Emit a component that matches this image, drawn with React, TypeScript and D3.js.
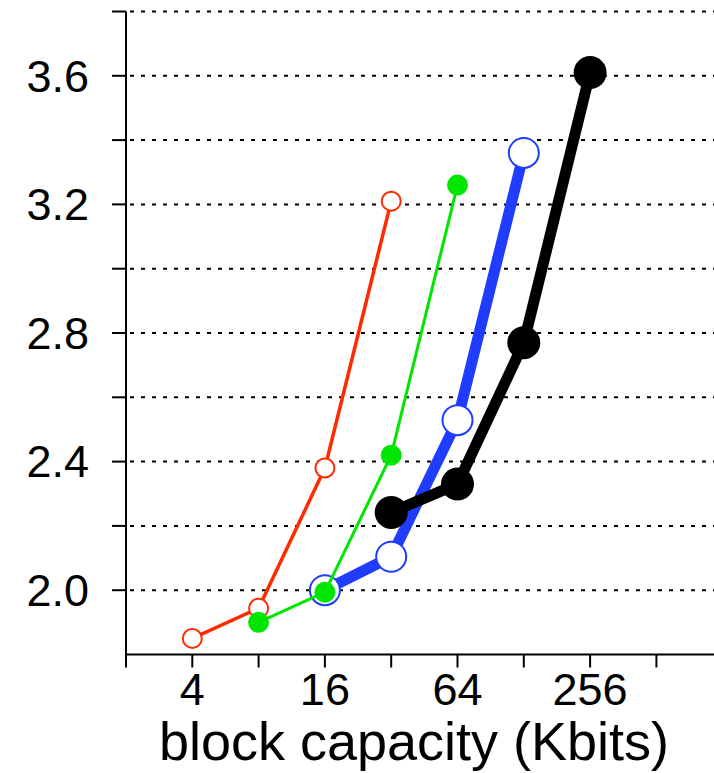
import React from "react";
import * as d3 from "d3";

const W = 714;
const H = 773;

// x values (Kbits) and y values per series
const redX = [4, 8, 16, 32];
const redY = [1.85, 1.944, 2.38, 3.21];
const greenX = [8, 16, 32, 64];
const greenY = [1.90, 1.994, 2.42, 3.26];
const blueX = [16, 32, 64, 128];
const blueY = [2.0, 2.104, 2.529, 3.36];
const blackX = [32, 64, 128, 256];
const blackY = [2.242, 2.33, 2.77, 3.61];

const xTicks = [2, 4, 8, 16, 32, 64, 128, 256, 512, 1024];
const xTickLabels = ["4", "16", "64", "256"];
const yTicks = [2.0, 2.2, 2.4, 2.6, 2.8, 3.0, 3.2, 3.4, 3.6, 3.8];
const yTickLabels = ["2.0", "2.4", "2.8", "3.2", "3.6"];
const xTitle = "block capacity (Kbits)";

const x = d3.scaleLog().base(2).domain([2, 1024]).range([126, 126 + 9 * 66.3]);
const y = d3.scaleLinear().domain([1.8, 3.8]).range([654.5, 11.5]);

const FONT = "'Liberation Sans', Arial, Helvetica, sans-serif";

type Series = {
  xs: number[];
  ys: number[];
  color: string;
  lw: number;
  r: number;
  filled: boolean;
};

const series: Series[] = [
  { xs: blueX, ys: blueY, color: "#1f3cff", lw: 11, r: 15, filled: false },
  { xs: blackX, ys: blackY, color: "#000000", lw: 11, r: 16.5, filled: true },
  { xs: redX, ys: redY, color: "#ff2a00", lw: 3.5, r: 9.5, filled: false },
  { xs: greenX, ys: greenY, color: "#00e600", lw: 3, r: 10.5, filled: true },
];

export default function App() {
  const line = d3
    .line<[number, number]>()
    .x((d) => x(d[0]))
    .y((d) => y(d[1]));

  return (
    <svg
      width={W}
      height={H}
      style={{ position: "absolute", left: 0, top: 0, background: "#fff" }}
    >
      <rect x={0} y={0} width={W} height={H} fill="#fff" />
      {/* gridlines */}
      {yTicks.map((t) => (
        <line
          key={"g" + t}
          x1={126}
          x2={W}
          y1={y(t)}
          y2={y(t)}
          stroke="#000"
          strokeWidth={2}
          strokeDasharray="4,7"
          strokeDashoffset={-4}
        />
      ))}
      {/* y axis */}
      <line x1={126} x2={126} y1={y(3.8)} y2={y(1.8)} stroke="#000" strokeWidth={2} />
      {yTicks.map((t) => (
        <line key={"yt" + t} x1={112} x2={126} y1={y(t)} y2={y(t)} stroke="#000" strokeWidth={2} />
      ))}
      {yTickLabels.map((l) => (
        <text
          key={"yl" + l}
          x={89}
          y={y(+l)}
          dy="0.35em"
          textAnchor="end"
          fontFamily={FONT}
          fontSize={45}
          fill="#000"
        >
          {l}
        </text>
      ))}
      {/* x axis */}
      <line x1={125} x2={W} y1={y(1.8)} y2={y(1.8)} stroke="#000" strokeWidth={2} />
      {xTicks.map((t) => (
        <line
          key={"xt" + t}
          x1={x(t)}
          x2={x(t)}
          y1={y(1.8)}
          y2={y(1.8) + 13}
          stroke="#000"
          strokeWidth={2}
        />
      ))}
      {xTickLabels.map((l) => (
        <text
          key={"xl" + l}
          x={x(+l)}
          y={705}
          textAnchor="middle"
          fontFamily={FONT}
          fontSize={45}
          fill="#000"
        >
          {l}
        </text>
      ))}
      <text
        x={414}
        y={760}
        textAnchor="middle"
        fontFamily={FONT}
        fontSize={54}
        fill="#000"
      >
        {xTitle}
      </text>
      {/* series */}
      {series.map((s, i) => {
        const pts: [number, number][] = s.xs.map((v, j) => [v, s.ys[j]]);
        return (
          <g key={"s" + i}>
            <path
              d={line(pts) || ""}
              fill="none"
              stroke={s.color}
              strokeWidth={s.lw}
              strokeLinejoin="round"
            />
            {pts.map((p, j) => (
              <circle
                key={j}
                cx={x(p[0])}
                cy={y(p[1])}
                r={s.r}
                fill={s.filled ? s.color : "#fff"}
                stroke={s.color}
                strokeWidth={s.filled ? 0 : 2}
              />
            ))}
          </g>
        );
      })}
    </svg>
  );
}
